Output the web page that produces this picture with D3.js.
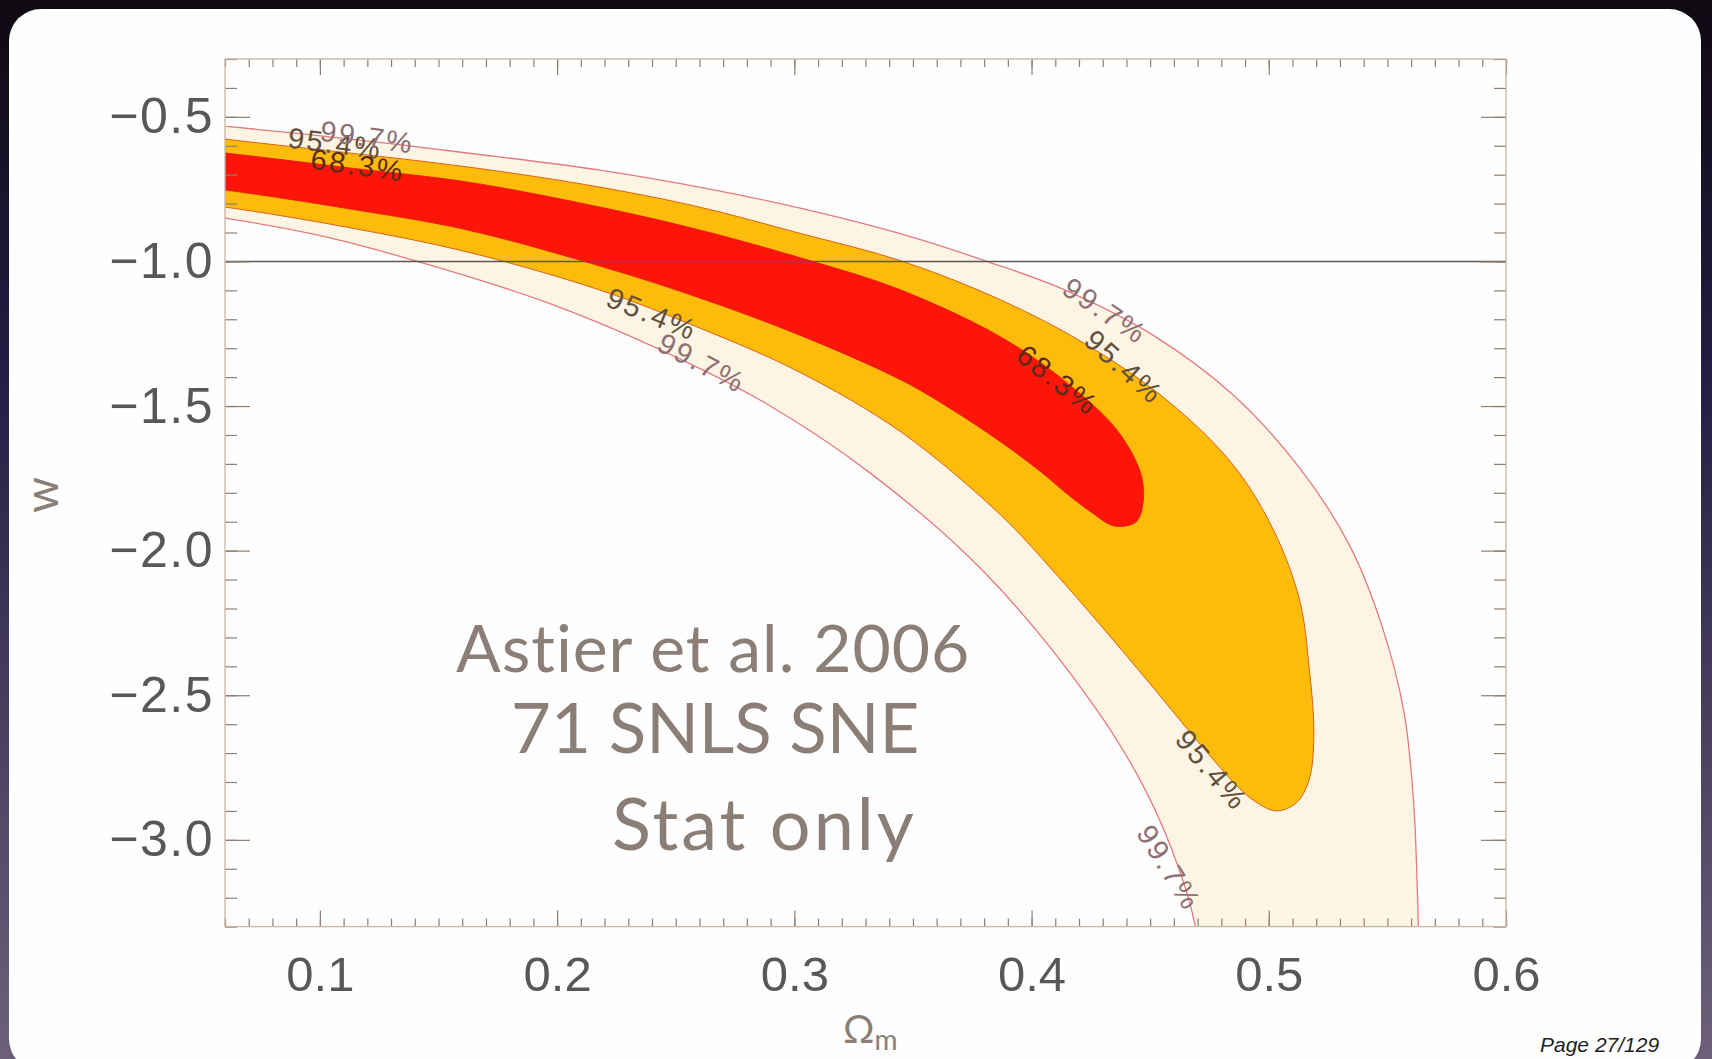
<!DOCTYPE html>
<html>
<head>
<meta charset="utf-8">
<script src="https://cdn.jsdelivr.net/npm/d3@7"></script>
<style>
  html, body { margin: 0; padding: 0; background: #140c1c; overflow: hidden; }
  svg { display: block; }
  text { font-variant-ligatures: none; }
</style>
</head>
<body>
<script>
// Confidence regions in the (Omega_m, w) plane, each outline as [Omega_m, w]
const region997 = [
  [0.028,-0.504],[0.060,-0.532],[0.113,-0.577],[0.162,-0.625],[0.218,-0.684],[0.260,-0.743],
  [0.302,-0.815],[0.345,-0.905],[0.382,-1.002],[0.413,-1.095],[0.451,-1.254],[0.485,-1.462],
  [0.513,-1.714],[0.534,-1.981],[0.548,-2.268],[0.557,-2.558],[0.561,-2.862],[0.5625,-3.139],
  [0.563,-3.298],[0.563,-3.52],
  [0.472,-3.52],[0.469,-3.298],[0.462,-3.097],[0.448,-2.828],[0.4255,-2.527],[0.380,-2.074],
  [0.333,-1.738],[0.287,-1.486],[0.241,-1.296],[0.195,-1.140],[0.149,-1.019],[0.103,-0.916],
  [0.060,-0.850],[0.028,-0.815]
];
const region954 = [
  [0.028,-0.545],[0.060,-0.577],[0.162,-0.673],[0.218,-0.743],[0.260,-0.812],[0.302,-0.902],
  [0.345,-0.998],[0.387,-1.133],[0.422,-1.282],[0.457,-1.479],[0.485,-1.704],[0.502,-1.929],
  [0.513,-2.171],[0.517,-2.402],[0.519,-2.631],[0.517,-2.793],[0.5115,-2.873],[0.503,-2.900],
  [0.494,-2.866],[0.487,-2.817],[0.471,-2.669],[0.450,-2.461],[0.429,-2.257],[0.408,-2.060],
  [0.387,-1.877],[0.345,-1.590],[0.302,-1.382],[0.260,-1.230],[0.218,-1.099],[0.162,-0.967],
  [0.113,-0.884],[0.060,-0.812],[0.028,-0.781]
];
const region683 = [
  [0.030,-0.600],[0.060,-0.625],[0.113,-0.677],[0.162,-0.725],[0.218,-0.812],[0.260,-0.891],
  [0.307,-0.998],[0.345,-1.099],[0.387,-1.261],[0.415,-1.420],[0.436,-1.583],[0.446,-1.732],
  [0.447,-1.835],[0.444,-1.901],[0.435,-1.915],
  [0.425,-1.866],[0.415,-1.804],[0.404,-1.728],[0.387,-1.624],[0.366,-1.510],[0.345,-1.410],
  [0.302,-1.254],[0.260,-1.126],[0.218,-1.016],[0.162,-0.891],[0.113,-0.819],[0.060,-0.753],
  [0.030,-0.725]
];

// Contour labels: text, position [Omega_m, w], angle along the contour (degrees)
const labelText  = ["95.4%", "99.7%", "68.3%", "99.7%", "95.4%", "68.3%", "95.4%", "99.7%", "95.4%", "99.7%"];
const labelOm    = [0.1065, 0.120, 0.116, 0.431, 0.439, 0.411, 0.240, 0.261, 0.476, 0.458];
const labelW     = [-0.592, -0.570, -0.667, -1.171, -1.365, -1.410, -1.182, -1.351, -2.759, -3.097];
const labelAngle = [7, 8, 8, 34, 42, 38, 22, 28, 50, 58];

// Axes
const xDomain = [0.06, 0.6];
const yDomain = [-3.3, -0.3];
const xTicks = [0.1, 0.2, 0.3, 0.4, 0.5, 0.6];
const yTicks = [-0.5, -1.0, -1.5, -2.0, -2.5, -3.0];
const wLambda = -1.0;

const noteLines = ["Astier et al. 2006", "71 SNLS SNE", "Stat only"];
const pageLabel = "Page 27/129";

// ---------------------------------------------------------------
const W = 1712, H = 1059;
const plot = { left: 225, right: 1506, top: 59, bottom: 926.6 };

const svg = d3.select("body").append("svg").attr("width", W).attr("height", H);
const defs = svg.append("defs");

// slide background and panel
const grad = defs.append("linearGradient").attr("id", "bg")
  .attr("x1", 0).attr("y1", 0).attr("x2", 0).attr("y2", 1);
grad.append("stop").attr("offset", "0%").attr("stop-color", "#0f0912");
grad.append("stop").attr("offset", "35%").attr("stop-color", "#231d44");
grad.append("stop").attr("offset", "100%").attr("stop-color", "#6d6179");
svg.append("rect").attr("width", W).attr("height", H).attr("fill", "url(#bg)");
svg.append("rect").attr("x", 9).attr("y", 9).attr("width", 1692).attr("height", 1062)
  .attr("rx", 32).attr("fill", "#fefefe");

const x = d3.scaleLinear().domain(xDomain).range([plot.left, plot.right]);
const y = d3.scaleLinear().domain(yDomain).range([plot.bottom, plot.top]);

defs.append("clipPath").attr("id", "plotclip").append("rect")
  .attr("x", plot.left).attr("y", plot.top)
  .attr("width", plot.right - plot.left).attr("height", plot.bottom - plot.top);

const g = svg.append("g").attr("clip-path", "url(#plotclip)");
const outline = d3.line().x(d => x(d[0])).y(d => y(d[1]))
  .curve(d3.curveCatmullRomClosed.alpha(0.5));

g.append("path").attr("d", outline(region997))
  .attr("fill", "#fdf4e4").attr("stroke", "#e57a80").attr("stroke-width", 1.3);
g.append("path").attr("d", outline(region954))
  .attr("fill", "#fdbb0c").attr("stroke", "#d9641c").attr("stroke-width", 1.0);
g.append("path").attr("d", outline(region683))
  .attr("fill", "#fc1508").attr("stroke", "#e01a0a").attr("stroke-width", 0.8);

// w = -1 (cosmological constant)
g.append("line")
  .attr("x1", x(xDomain[0])).attr("x2", x(xDomain[1]))
  .attr("y1", y(wLambda)).attr("y2", y(wLambda))
  .attr("stroke", "#5c5552").attr("stroke-width", 1.6);

// contour labels
const labelColor = { "99.7%": "#8d6f74", "95.4%": "#62503f", "68.3%": "#5a2a1a" };
labelText.forEach((t, i) => {
  g.append("text")
    .attr("transform", `translate(${x(labelOm[i])},${y(labelW[i])}) rotate(${labelAngle[i]})`)
    .attr("text-anchor", "middle").attr("dominant-baseline", "central")
    .attr("font-family", "Liberation Sans, Arial, sans-serif")
    .attr("font-size", 29).attr("letter-spacing", "2.5px")
    .attr("fill", labelColor[t]).text(t);
});

// axes
const axisColor = "#8f7d70";
const fmt = d3.format(".1f");
function styleAxis(sel) {
  sel.select(".domain").remove();
  sel.selectAll("line").attr("stroke", axisColor).attr("stroke-width", 1.2);
  sel.selectAll("text")
    .attr("font-family", "Liberation Sans, Arial, sans-serif")
    .attr("font-size", 49).attr("fill", "#585858");
}
const xMinor = d3.range(6, 61).map(i => i / 100);
const yMinor = d3.range(-33, -2).map(i => i / 10);

svg.append("g").attr("transform", `translate(0,${plot.bottom})`)
  .call(d3.axisBottom(x).tickValues(xMinor).tickSize(-8).tickFormat("")).call(styleAxis);
svg.append("g").attr("transform", `translate(0,${plot.bottom})`)
  .call(d3.axisBottom(x).tickValues(xTicks).tickSize(-16).tickPadding(30).tickFormat(fmt)).call(styleAxis);
svg.append("g").attr("transform", `translate(0,${plot.top})`)
  .call(d3.axisTop(x).tickValues(xMinor).tickSize(-8).tickFormat("")).call(styleAxis);
svg.append("g").attr("transform", `translate(0,${plot.top})`)
  .call(d3.axisTop(x).tickValues(xTicks).tickSize(-16).tickFormat("")).call(styleAxis);

svg.append("g").attr("transform", `translate(${plot.left},0)`)
  .call(d3.axisLeft(y).tickValues(yMinor).tickSize(-12).tickFormat("")).call(styleAxis);
svg.append("g").attr("transform", `translate(${plot.left},0)`)
  .call(d3.axisLeft(y).tickValues(yTicks).tickSize(-25).tickPadding(11).tickFormat(fmt))
  .call(styleAxis)
  .call(s => s.selectAll("text").attr("font-size", 50).attr("letter-spacing", "1.5px"));
svg.append("g").attr("transform", `translate(${plot.right},0)`)
  .call(d3.axisRight(y).tickValues(yMinor).tickSize(-12).tickFormat("")).call(styleAxis);
svg.append("g").attr("transform", `translate(${plot.right},0)`)
  .call(d3.axisRight(y).tickValues(yTicks).tickSize(-25).tickFormat("")).call(styleAxis);

svg.append("rect")
  .attr("x", plot.left).attr("y", plot.top)
  .attr("width", plot.right - plot.left).attr("height", plot.bottom - plot.top)
  .attr("fill", "none").attr("stroke", "#c9b3a3").attr("stroke-width", 1.3);

// axis titles
const titleColor = "#8a7e76";
svg.append("text")
  .attr("transform", "translate(58,495) rotate(-90)")
  .attr("text-anchor", "middle")
  .attr("font-family", "Lato, sans-serif").attr("font-size", 46)
  .attr("fill", titleColor).text("w");

const om = svg.append("text")
  .attr("x", 843).attr("y", 1043)
  .attr("font-family", "Lato, sans-serif").attr("font-size", 39)
  .attr("fill", titleColor);
om.append("tspan").text("Ω");
om.append("tspan").attr("font-size", 28).attr("dy", 7).text("m");

// annotation
const noteX = [456, 511, 612], noteY = [672, 753, 850];
const noteSize = [66, 69, 72], noteSpacing = [1, 0, 3];
noteLines.forEach((t, i) => {
  svg.append("text")
    .attr("x", noteX[i]).attr("y", noteY[i])
    .attr("font-family", "Lato, sans-serif").attr("font-size", noteSize[i])
    .attr("letter-spacing", noteSpacing[i] + "px")
    .attr("fill", titleColor).text(t);
});

svg.append("text")
  .attr("x", 1540).attr("y", 1052)
  .attr("font-family", "Liberation Sans, Arial, sans-serif")
  .attr("font-style", "italic").attr("font-size", 21)
  .attr("fill", "#1e1e1e").text(pageLabel);
</script>
</body>
</html>
